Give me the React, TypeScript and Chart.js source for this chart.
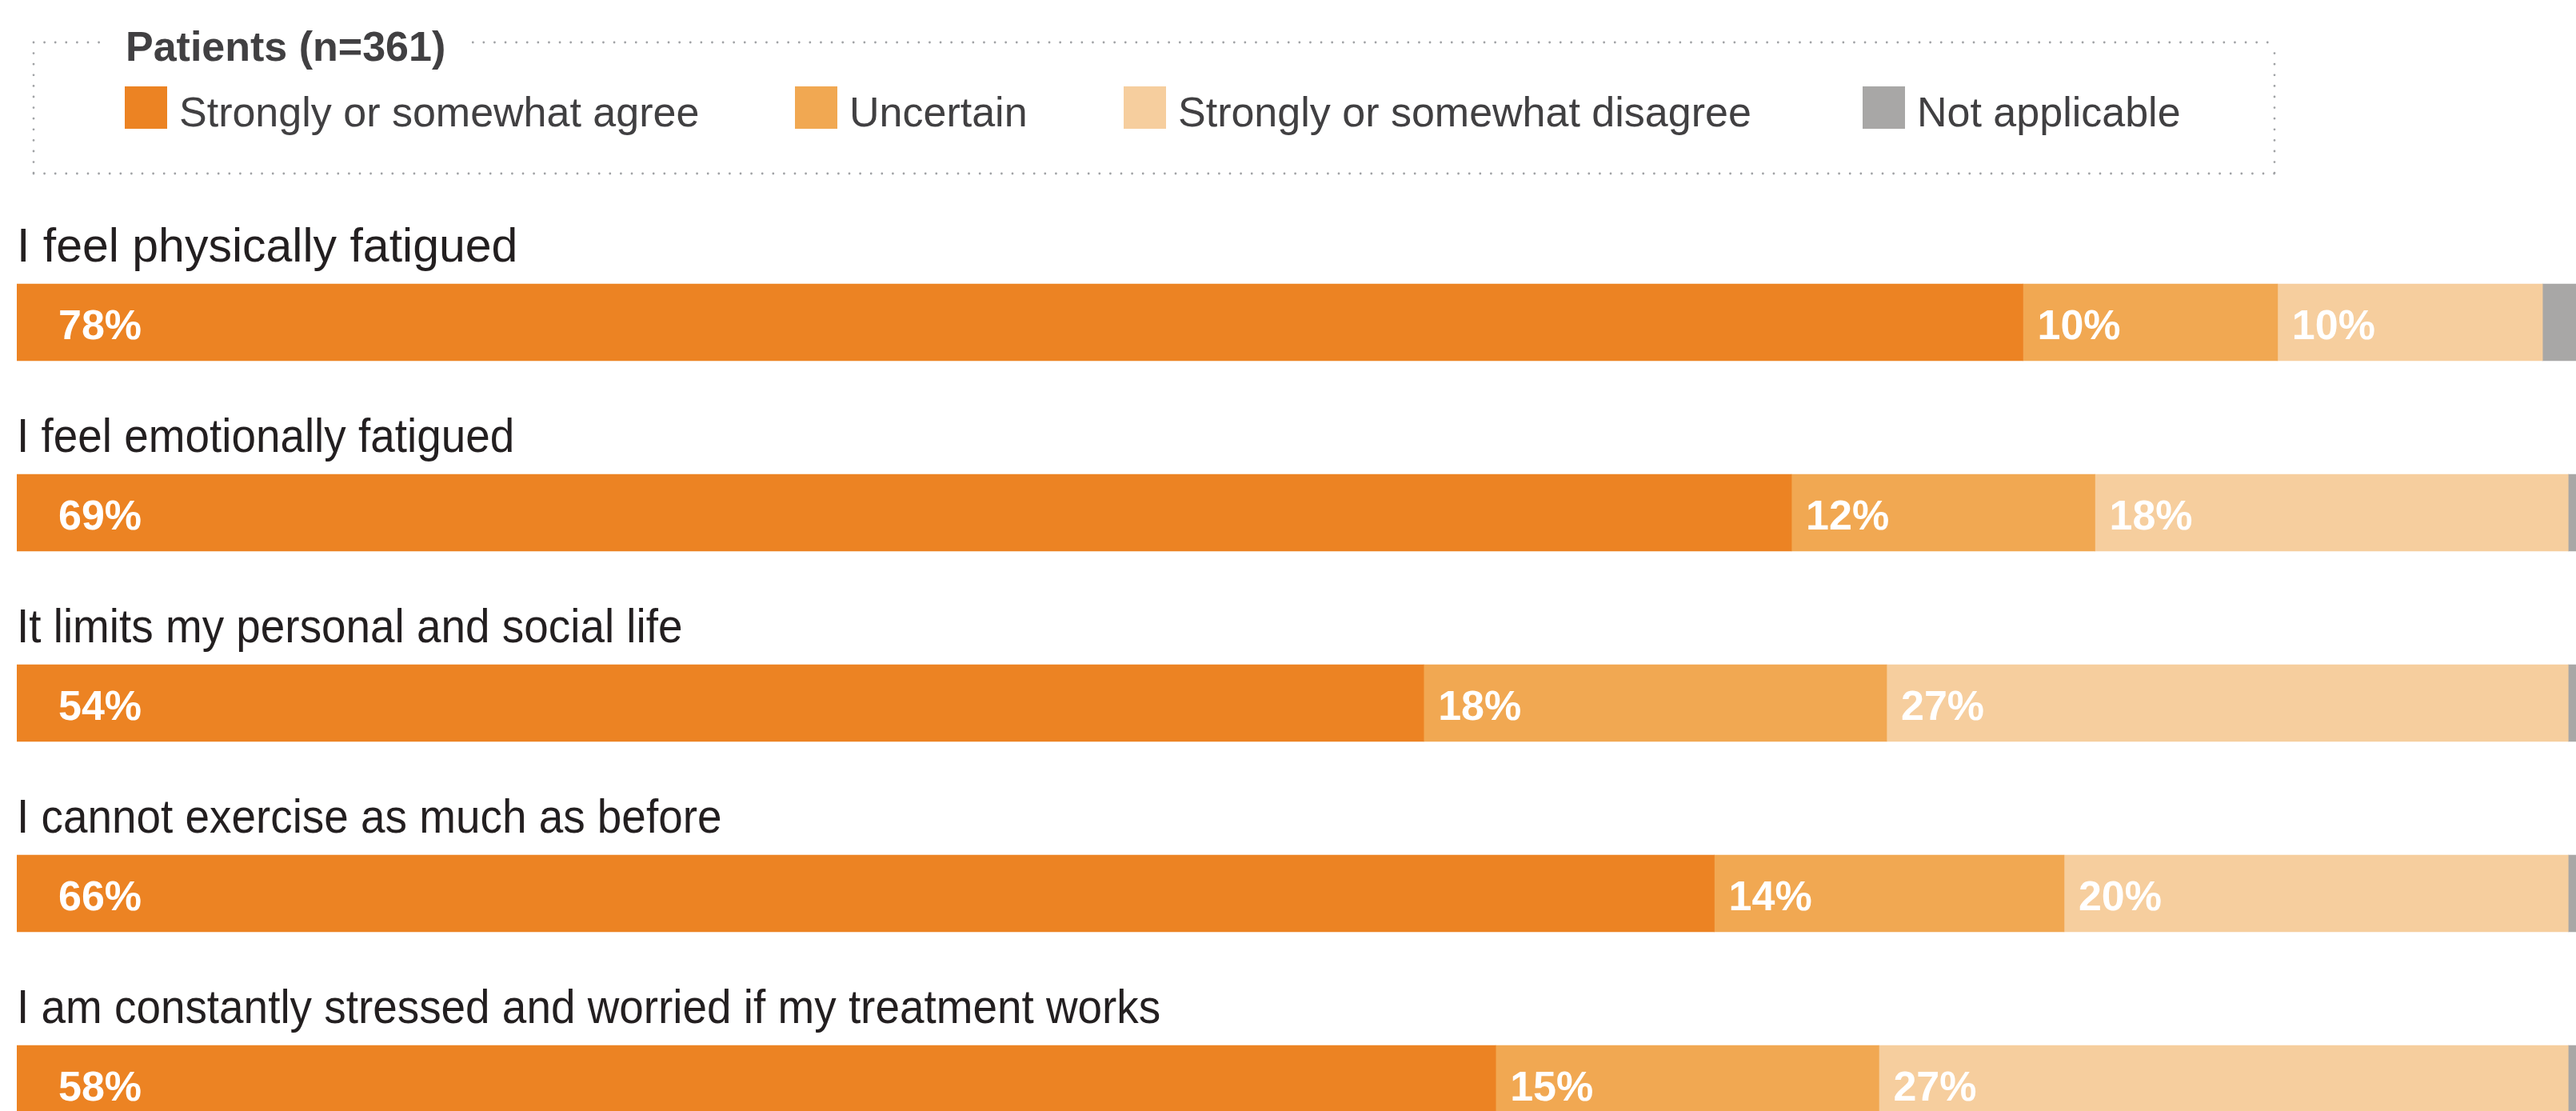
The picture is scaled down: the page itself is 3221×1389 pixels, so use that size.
import { useEffect, useRef } from 'react';
import { Chart, registerables } from 'chart.js';

Chart.register(...registerables);

// ---------- data ----------
const legendTitle = 'Patients (n=361)';
const categories = [
  'I feel physically fatigued',
  'I feel emotionally fatigued',
  'It limits my personal and social life',
  'I cannot exercise as much as before',
  'I am constantly stressed and worried if my treatment works',
];
const seriesNames = [
  'Strongly or somewhat agree',
  'Uncertain',
  'Strongly or somewhat disagree',
  'Not applicable',
];
// bar lengths (%)
const agree = [78.0, 69.0, 54.7, 66.0, 57.5];
const uncertain = [9.9, 11.8, 18.0, 13.6, 14.9];
const disagree = [10.3, 18.4, 26.5, 19.6, 26.8];
const notApplicable = [1.8, 0.8, 0.8, 0.8, 0.8];
// printed percentages
const agreeLabels = ['78%', '69%', '54%', '66%', '58%'];
const uncertainLabels = ['10%', '12%', '18%', '14%', '15%'];
const disagreeLabels = ['10%', '18%', '27%', '20%', '27%'];
const notApplicableLabels = ['', '', '', '', ''];

// ---------- styles ----------
const colors = ['#EC8323', '#F1A852', '#F6CE9E', '#A8A7A6'];
const FONT = '"Liberation Sans", Arial, Helvetica, sans-serif';
const CANVAS_W = 3237;
const CANVAS_H = 1474;
const legendItemX = [156, 994, 1405, 2329];
const categoryLabelScaleX = [1, 0.93, 0.93, 0.93, 0.93];

const labelsPlugin = {
  id: 'segmentLabels',
  afterDatasetsDraw(chart: any) {
    const ctx = chart.ctx;
    ctx.save();
    const meta0 = chart.getDatasetMeta(0);
    // category labels above bars
    ctx.font = `59px ${FONT}`;
    ctx.fillStyle = '#231F20';
    ctx.textBaseline = 'alphabetic';
    ctx.textAlign = 'left';
    chart.data.labels.forEach((lab: string, i: number) => {
      const el = meta0.data[i];
      const sx = categoryLabelScaleX[i] ?? 1;
      ctx.save();
      ctx.translate(chart.chartArea.left, el.y - 76);
      ctx.scale(sx, 1);
      ctx.fillText(lab, 0, 0);
      ctx.restore();
    });
    // percentage labels
    ctx.font = `bold 52px ${FONT}`;
    ctx.fillStyle = '#FFFFFF';
    chart.data.datasets.forEach((ds: any, d: number) => {
      const meta = chart.getDatasetMeta(d);
      ds.data.forEach((_v: number, i: number) => {
        const txt = ds.pctLabels[i];
        if (!txt) return;
        const el = meta.data[i];
        const start = Math.min(el.base, el.x);
        ctx.fillText(txt, start + (d === 0 ? 52 : 18), el.y + 21);
      });
    });
    ctx.restore();
  },
};

const legendPlugin = {
  id: 'boxLegend',
  afterDraw(chart: any) {
    const ctx = chart.ctx;
    ctx.save();
    const L = 42, R = 2844, T = 53, B = 217;
    const titleX = 157;
    ctx.font = `bold 52px ${FONT}`;
    const tw = ctx.measureText(legendTitle).width;
    // dotted border
    ctx.strokeStyle = '#A0A2A5';
    ctx.lineWidth = 2.8;
    ctx.lineCap = 'round';
    ctx.setLineDash([0, 13.6]);
    ctx.beginPath();
    ctx.moveTo(L, T);
    ctx.lineTo(titleX - 20, T);
    ctx.moveTo(titleX + tw + 34, T);
    ctx.lineTo(R, T);
    ctx.moveTo(R, T + 13.6);
    ctx.lineTo(R, B);
    ctx.moveTo(L, B);
    ctx.lineTo(R, B);
    ctx.moveTo(L, T);
    ctx.lineTo(L, B);
    ctx.stroke();
    ctx.setLineDash([]);
    // title
    ctx.fillStyle = '#414042';
    ctx.textBaseline = 'alphabetic';
    ctx.textAlign = 'left';
    ctx.fillText(legendTitle, titleX, 76);
    // items
    ctx.font = `52px ${FONT}`;
    chart.data.datasets.forEach((ds: any, i: number) => {
      const x = legendItemX[i];
      ctx.fillStyle = ds.backgroundColor;
      ctx.fillRect(x, 108, 53, 53);
      ctx.fillStyle = '#414042';
      ctx.fillText(ds.label, x + 68, 158);
    });
    ctx.restore();
  },
};

export default function App() {
  const ref = useRef<HTMLCanvasElement>(null);
  useEffect(() => {
    const canvas = ref.current as HTMLCanvasElement;
    const series = [agree, uncertain, disagree, notApplicable];
    const seriesLabels = [agreeLabels, uncertainLabels, disagreeLabels, notApplicableLabels];
    const chart = new Chart(canvas, {
      type: 'bar',
      data: {
        labels: categories,
        datasets: series.map((s, i) => ({
          label: seriesNames[i],
          data: s,
          pctLabels: seriesLabels[i],
          backgroundColor: colors[i],
          borderWidth: 0,
          barThickness: 96,
        })),
      },
      options: {
        indexAxis: 'y',
        responsive: false,
        animation: false,
        devicePixelRatio: 1,
        layout: { padding: { left: 21, top: 284, right: 0, bottom: 0 } },
        scales: {
          x: { stacked: true, min: 0, max: 100, display: false },
          y: { stacked: true, display: false, offset: true },
        },
        plugins: {
          legend: { display: false },
          tooltip: { enabled: false },
        },
      },
      plugins: [labelsPlugin, legendPlugin],
    } as any);
    return () => chart.destroy();
  }, []);
  return (
    <div
      style={{
        position: 'absolute',
        left: 0,
        top: 0,
        width: 3221,
        height: 1389,
        overflow: 'hidden',
        background: '#ffffff',
      }}
    >
      <canvas ref={ref} width={CANVAS_W} height={CANVAS_H} style={{ display: 'block' }} />
    </div>
  );
}
